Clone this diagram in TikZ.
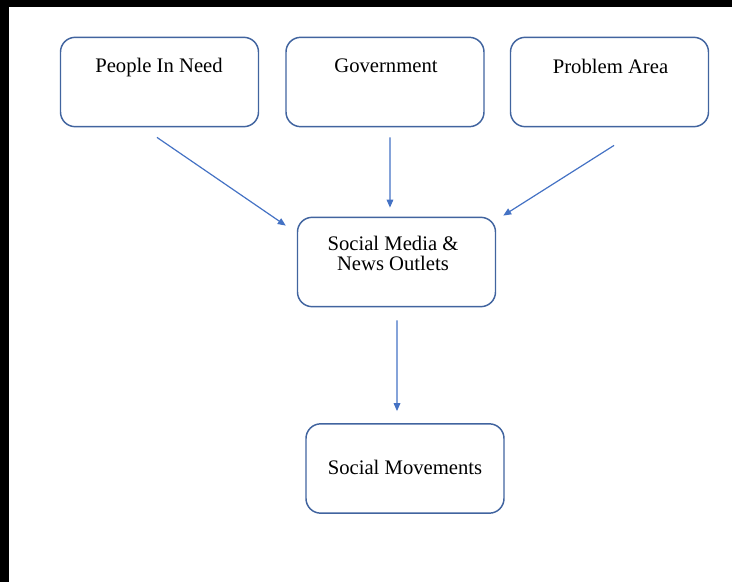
\documentclass[tikz,border=0pt]{standalone}
\usepackage{fontspec}
\setmainfont{Liberation Serif}
\usetikzlibrary{arrows.meta}
\definecolor{boxblue}{HTML}{41649F}
\definecolor{arrowblue}{HTML}{4472C4}

\begin{document}
\begin{tikzpicture}[x=0.75pt,y=-0.75pt]
 \useasboundingbox (0,0) rectangle (732,582);
 % dark edges along top and left
 \fill[black] (0,0) rectangle (732,7);
 \fill[black] (0,0) rectangle (9,582);
 \begin{scope}[every node/.style={draw=boxblue,line width=1.1pt,rounded corners=11pt,minimum width=148.5pt,minimum height=67pt}]
    \node (pin) at (159.5,82) {};
    \node (gov) at (385,82) {};
    \node (pa) at (609.5,82) {};
    \node (smn) at (396.5,262) {};
    \node (smv) at (405,468.5) {};
 \end{scope}
 \begin{scope}[every node/.style={font=\fontsize{15.5}{15}\selectfont,align=center,inner sep=0pt}]
    \node (pin-t) [anchor=base] at (159,72) {People In Need};
    \node (gov-t) [anchor=base] at (386,72.5) {Government};
    \node (pa-t) [anchor=base] at (610.5,73) {Problem Area};
    \node (smn-t) at (393,253) {Social Media \&\\News Outlets};
    \node (smv-t) [anchor=base] at (405,474) {Social Movements};
 \end{scope}
 \begin{scope}[every edge/.style={draw=arrowblue,line width=0.9pt,-{Triangle[length=6pt,width=5pt]}}]
   \draw ([xshift=-1.9pt,yshift=-7.5pt]pin.south) edge ([xshift=-8.25pt,yshift=-6.75pt]smn.north west);
   \draw ([xshift=3.75pt,yshift=-7.5pt]gov.south) edge ([xshift=-4.9pt,yshift=6.75pt]smn.north);
   \draw ([xshift=3.4pt,yshift=-13.5pt]pa.south) edge ([xshift=5.25pt,yshift=0.75pt]smn.north east);
   \draw ([xshift=0.4pt,yshift=-9.75pt]smn.south) edge ([xshift=-6pt,yshift=9pt]smv.north);
 \end{scope}
\end{tikzpicture}
\end{document}
